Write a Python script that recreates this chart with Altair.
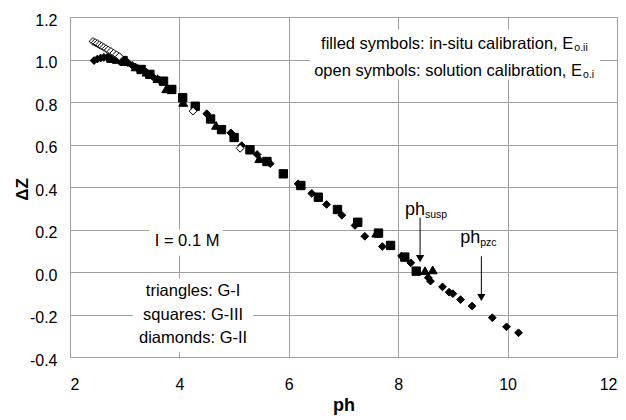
import altair as alt
import pandas as pd

# ---- data ----
tri_ph = [2.88, 3.00, 3.20, 3.40, 3.60, 3.76, 4.07, 4.67, 5.46, 7.60, 8.49, 8.63]
tri_dz = [1.002, 0.990, 0.965, 0.940, 0.910, 0.862, 0.798, 0.690, 0.533, 0.183, 0.006, 0.010]

sq_ph = [2.75, 2.85, 2.97, 3.30, 3.46, 3.71, 3.86, 4.06, 4.29, 4.57, 4.77, 5.00,
         5.29, 5.60, 5.90, 6.22, 6.54, 6.89, 7.26, 7.64, 7.86, 8.12, 8.33]
sq_dz = [1.006, 1.002, 0.995, 0.953, 0.930, 0.898, 0.859, 0.820, 0.780, 0.720, 0.670, 0.633,
         0.575, 0.520, 0.462, 0.407, 0.352, 0.294, 0.234, 0.183, 0.125, 0.070, 0.004]

dia_ph = [2.44, 2.50, 2.56, 2.62, 2.68, 2.74, 2.80, 2.86, 2.92, 2.98, 3.06, 3.14, 3.24,
          3.36, 3.52, 3.64, 4.50, 4.94, 5.14, 5.42, 5.66, 6.17, 6.42, 6.69, 6.97, 7.21,
          7.39, 7.71, 8.06, 8.23, 8.55, 8.59, 8.81, 8.93, 9.00, 9.14, 9.35, 9.72, 9.98, 10.20]
dia_dz = [0.995, 1.002, 1.007, 1.010, 1.010, 1.009, 1.007, 1.004, 1.000, 0.995, 0.985, 0.972,
          0.958, 0.942, 0.918, 0.902, 0.745, 0.655, 0.595, 0.553, 0.510, 0.415, 0.370, 0.318,
          0.267, 0.219, 0.168, 0.120, 0.075, 0.043, -0.027, -0.043, -0.070, -0.095, -0.102,
          -0.130, -0.160, -0.215, -0.258, -0.286]

open_ph = [2.42, 2.46, 2.50, 2.54, 2.58, 2.62, 2.66, 2.70, 2.75, 2.80, 2.85, 2.90, 4.25, 5.11]
open_dz = [1.085, 1.080, 1.075, 1.069, 1.063, 1.057, 1.051, 1.045, 1.038, 1.030, 1.022, 1.014, 0.757, 0.582]

x_ticks = [2, 4, 6, 8, 10, 12]
y_ticks = [-0.4, -0.2, 0.0, 0.2, 0.4, 0.6, 0.8, 1.0, 1.2]

# arrows (pH_susp, pH_pzc)
arrow_ph = [8.40, 9.52]
arrow_top = [0.256, 0.074]
arrow_head = [0.063, -0.120]

FONT = "Liberation Sans"
TXT = 16.5

rows = []
for p, d in zip(tri_ph, tri_dz):
    rows.append(dict(ph=p, dz=d, shape="tri", style="filled"))
for p, d in zip(sq_ph, sq_dz):
    rows.append(dict(ph=p, dz=d, shape="sq", style="filled"))
for p, d in zip(dia_ph, dia_dz):
    rows.append(dict(ph=p, dz=d, shape="dia", style="filled"))
for p, d in zip(open_ph, open_dz):
    rows.append(dict(ph=p, dz=d, shape="dia", style="open"))
pts = pd.DataFrame(rows)

xs = alt.Scale(domain=[2, 12], nice=False)
ys = alt.Scale(domain=[-0.4, 1.2], nice=False)

x_axis = alt.Axis(values=x_ticks, title="ph", grid=True,
                  ticks=False, domain=False, labelPadding=19,
                  titleX=273.5, titleY=48, titleBaseline="middle", titleAlign="center",
                  labelFontSize=16, titleFontSize=18, titleFontWeight="bold",
                  labelFont=FONT, titleFont=FONT, labelColor="black", titleColor="black",
                  gridColor="#a0a0a0", gridWidth=1)
y_axis = alt.Axis(values=y_ticks, title="ΔZ", grid=True,
                  ticks=False, domain=False, labelPadding=13, labelOffset=3,
                  titleX=-48, titleY=172, titleBaseline="middle", titleAlign="center", titleAngle=270,
                  labelExpr="(datum.value < -0.0001 ? '-' : '') + format(abs(datum.value), '.1f')",
                  labelFontSize=16, titleFontSize=17, titleFontWeight="bold",
                  labelFont=FONT, titleFont=FONT, labelColor="black", titleColor="black",
                  gridColor="#a0a0a0", gridWidth=1)

# white boxes behind text blocks
boxes = pd.DataFrame(dict(x1=[6.39, 3.45, 3.15], x2=[11.69, 4.79, 5.35],
                          y1=[1.141, 0.200, -0.031], y2=[0.906, 0.078, -0.375]))
box_layer = alt.Chart(boxes).mark_rect(color="white").encode(
    x=alt.X("x1:Q", scale=xs, axis=x_axis), x2="x2:Q",
    y=alt.Y("y1:Q", scale=ys, axis=y_axis), y2="y2:Q")

points = alt.Chart(pts).mark_point(filled=True, stroke="black", strokeWidth=1, opacity=1).encode(
    x=alt.X("ph:Q", scale=xs, axis=x_axis),
    y=alt.Y("dz:Q", scale=ys, axis=y_axis),
    shape=alt.Shape("shape:N", scale=alt.Scale(domain=["tri", "sq", "dia"],
                    range=["triangle-up", "square", "diamond"]), legend=None),
    fill=alt.Fill("style:N", scale=alt.Scale(domain=["filled", "open"],
                  range=["black", "white"]), legend=None),
    size=alt.Size("shape:N", scale=alt.Scale(domain=["tri", "sq", "dia"],
                  range=[80, 60, 70]), legend=None),
)

arr = pd.DataFrame(dict(ph=arrow_ph, top=arrow_top, head=arrow_head))
arrow_rule = alt.Chart(arr).mark_rule(color="black", strokeWidth=1).encode(
    x=alt.X("ph:Q", scale=xs), y=alt.Y("top:Q", scale=ys), y2="head:Q")
arrow_tip = alt.Chart(arr).mark_point(shape="triangle-down", filled=True, color="black",
                                      size=70, opacity=1).encode(
    x=alt.X("ph:Q", scale=xs), y=alt.Y("head:Q", scale=ys))

def text_layer(df, size, align, dy=0):
    return alt.Chart(df).mark_text(font=FONT, fontSize=size, align=align, baseline="middle",
                                   color="black", dy=dy).encode(
        x=alt.X("x:Q", scale=xs), y=alt.Y("y:Q", scale=ys), text="t:N")

main_right = pd.DataFrame(dict(
    x=[11.20, 11.36],
    y=[1.075, 0.944],
    t=["filled symbols: in-situ calibration, E", "open symbols: solution calibration, E"]))
sub_left = pd.DataFrame(dict(x=[11.22, 11.38], y=[1.075, 0.944], t=["o.ii", "o.i"]))

ph_main = pd.DataFrame(dict(x=[8.49, 9.50], y=[0.294, 0.162], t=["ph", "ph"]))
ph_sub = pd.DataFrame(dict(x=[8.49, 9.50], y=[0.294, 0.162], t=["susp", "pzc"]))

center_txt = pd.DataFrame(dict(
    x=[4.14, 4.25, 4.25, 4.25],
    y=[0.148, -0.090, -0.201, -0.309],
    t=["I = 0.1 M", "triangles: G-I", "squares: G-III", "diamonds: G-II"]))

chart = alt.layer(
    box_layer,
    points,
    arrow_rule,
    arrow_tip,
    text_layer(main_right, TXT, "right"),
    text_layer(sub_left, 10.5, "left", dy=4),
    text_layer(ph_main, 18, "right"),
    text_layer(ph_sub, 10.5, "left", dy=5),
    text_layer(center_txt, TXT, "center"),
).properties(
    width=547, height=340,
    autosize=alt.AutoSizeParams(type="none"),
    padding={"left": 62, "top": 9, "right": 1, "bottom": 62},
).configure_view(stroke="black", strokeWidth=2).configure(background="white")

chart.save("out.html", embed_options={"renderer": "svg", "actions": False})
